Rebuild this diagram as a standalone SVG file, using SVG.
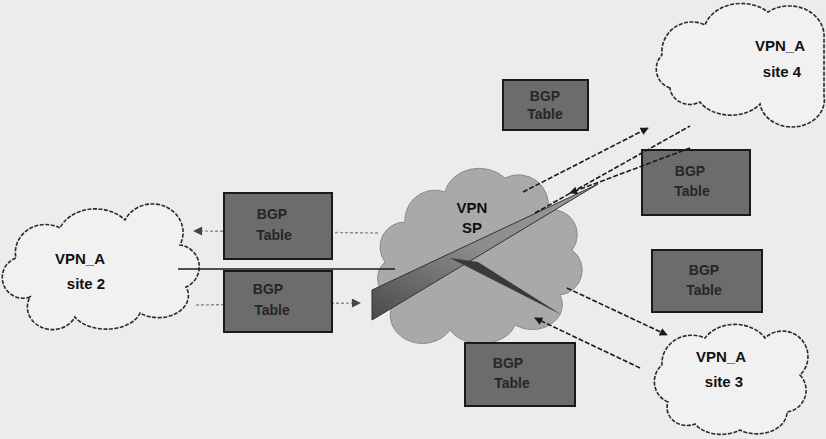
<svg xmlns="http://www.w3.org/2000/svg" width="826" height="439" viewBox="0 0 826 439">
  <defs>
    <style>
      .site { fill: #f1f1f1; stroke: #2a2a2a; stroke-width: 1.6; stroke-dasharray: 4 1.5; }
      .core { fill: #a9a9a9; stroke: #8a8a8a; stroke-width: 1; }
      .lbl { font-family: "Liberation Sans", Arial, sans-serif; font-weight: bold; font-size: 15px; fill: #111; text-anchor: middle; }
      .box rect.outer { fill: #6c6c6c; stroke: #1a1a1a; stroke-width: 2; }
      .box rect.inner { fill: #5a5a5a; }
      .box text { font-family: "Liberation Sans", Arial, sans-serif; font-weight: bold; font-size: 14px; fill: #262626; text-anchor: middle; }
      .solid { stroke: #1a1a1a; stroke-width: 1.6; fill: none; }
      .dash { stroke: #1a1a1a; stroke-width: 1.6; fill: none; stroke-dasharray: 5 2; }
      .grey { stroke: #8a8a8a; stroke-width: 1.4; fill: none; stroke-dasharray: 3 2; }
    </style>
    <marker id="ah" viewBox="0 0 10 10" refX="9" refY="5" markerWidth="9" markerHeight="8" orient="auto" markerUnits="userSpaceOnUse">
      <path d="M0,0 L10,5 L0,10 Z" fill="#1a1a1a"/>
    </marker>
    <marker id="ahg" viewBox="0 0 10 10" refX="9" refY="5" markerWidth="10" markerHeight="9" orient="auto" markerUnits="userSpaceOnUse">
      <path d="M0,0 L10,5 L0,10 Z" fill="#444"/>
    </marker>
    <linearGradient id="beam" x1="0" y1="1" x2="1" y2="0">
      <stop offset="0" stop-color="#4a4a4a"/>
      <stop offset="0.5" stop-color="#8c8c8c"/>
      <stop offset="1" stop-color="#9a9a9a"/>
    </linearGradient>
  </defs>

  <rect width="826" height="439" fill="#ececec"/>

  <!-- customer sites -->
  <g id="site4">
    <path class="site" d="M670,88 A20,20 0 0 1 662,55 A30,30 0 0 1 705,25 A38,30 0 0 1 768,12 A35,30 0 0 1 824,38 L824,96 A30,25 0 0 1 760,104 A35,25 0 0 1 700,102 A20,18 0 0 1 670,88 Z"/>
    <text class="lbl" x="780" y="51">VPN_A</text>
    <text class="lbl" x="782" y="77">site 4</text>
  </g>
  <g id="site3">
    <path class="site" d="M668,402 A22,22 0 0 1 662,365 A30,28 0 0 1 705,338 A35,28 0 0 1 765,338 A25,25 0 0 1 800,375 A22,22 0 0 1 787,412 A30,22 0 0 1 740,430 A30,20 0 0 1 695,424 A20,18 0 0 1 668,402 Z"/>
    <text class="lbl" x="721" y="362">VPN_A</text>
    <text class="lbl" x="724" y="387">site 3</text>
  </g>
  <g id="site2">
    <path class="site" d="M30,297 A20,20 0 0 1 16,258 A30,28 0 0 1 60,228 A38,30 0 0 1 125,220 A30,28 0 0 1 180,245 A22,22 0 0 1 186,287 A30,22 0 0 1 140,313 A35,22 0 0 1 75,317 A20,18 0 0 1 30,297 Z"/>
    <text class="lbl" x="80" y="264">VPN_A</text>
    <text class="lbl" x="86" y="289">site 2</text>
  </g>

  <!-- provider core -->
  <g id="vpn-sp">
    <path class="core" d="M395,300 A22,22 0 0 1 385,262 A25,25 0 0 1 405,222 A30,30 0 0 1 445,192 A35,30 0 0 1 505,178 A30,30 0 0 1 548,210 A25,25 0 0 1 572,250 A25,25 0 0 1 560,295 A30,25 0 0 1 515,325 A35,25 0 0 1 450,330 A25,22 0 0 1 395,300 Z"/>
    <text class="lbl" x="472" y="213" font-size="15">VPN</text>
    <text class="lbl" x="472" y="233">SP</text>
  </g>

  <!-- route update boxes -->
  <g id="box-top" class="box">
    <rect class="outer" x="503" y="80" width="85" height="50"/>
    <text x="545" y="101">BGP</text>
    <text x="545" y="119">Table</text>
  </g>
  <g id="box-right-1" class="box">
    <rect class="outer" x="642" y="150" width="108" height="65"/>
    <text x="690" y="176">BGP</text>
    <text x="692" y="196">Table</text>
  </g>
  <g id="box-right-2" class="box">
    <rect class="outer" x="652" y="250" width="110" height="62"/>
    <text x="704" y="275">BGP</text>
    <text x="704" y="295">Table</text>
  </g>
  <g id="box-bottom" class="box">
    <rect class="outer" x="465" y="343" width="110" height="63"/>
    <text x="508" y="368">BGP</text>
    <text x="512" y="388">Table</text>
  </g>

  <!-- connectors -->
  <g id="connectors">
    <line class="grey" x1="378" y1="233" x2="194" y2="231" marker-end="url(#ahg)"/>
    <line class="grey" x1="196" y1="305" x2="360" y2="303" marker-end="url(#ahg)"/>
    <line class="solid" x1="178" y1="269" x2="395" y2="269"/>
    <!-- traffic beams across the core -->
    <polygon points="372,290 372,320 598,184" fill="url(#beam)" stroke="#333" stroke-width="1"/>
    <polygon points="450,258 478,262 562,315" fill="#3a3a3a"/>
    <!-- site 4 exchange -->
    <line class="dash" x1="523" y1="192" x2="648" y2="128" marker-end="url(#ah)"/>
    <line class="dash" x1="535" y1="213" x2="690" y2="126"/>
    <line class="dash" x1="690" y1="148" x2="570" y2="193" marker-end="url(#ah)"/>
    <!-- site 3 exchange -->
    <line class="dash" x1="567" y1="288" x2="667" y2="335" marker-end="url(#ah)"/>
    <line class="dash" x1="640" y1="368" x2="535" y2="318" marker-end="url(#ah)"/>
  </g>

  <g id="box-left-1" class="box">
    <rect class="outer" x="224" y="193" width="108" height="66"/>
    <text x="272" y="219">BGP</text>
    <text x="274" y="240">Table</text>
  </g>
  <g id="box-left-2" class="box">
    <rect class="outer" x="224" y="271" width="108" height="61"/>
    <text x="268" y="294">BGP</text>
    <text x="272" y="315">Table</text>
  </g>
</svg>
